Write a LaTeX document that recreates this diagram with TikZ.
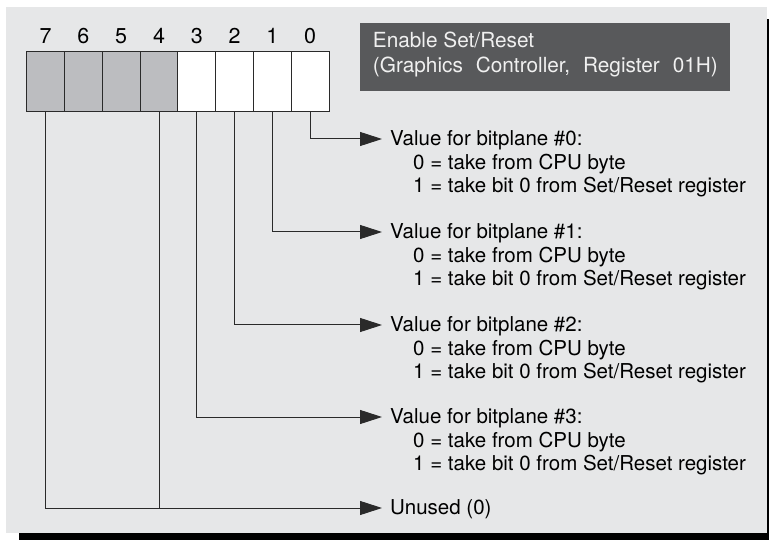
\documentclass[tikz,border=0pt]{standalone}
\usepackage{fontspec}
\setmainfont{TeX Gyre Heros}
\usepackage{tikz}
\usetikzlibrary{arrows.meta,positioning}
\usepackage{xcolor}
\definecolor{panelgray}{HTML}{E6E7E8}
\definecolor{cellgray}{HTML}{BCBDC0}
\definecolor{titlegray}{HTML}{58595B}
\definecolor{wiregray}{HTML}{2A2A2A}
\newcommand{\indln}{\hspace*{23pt}}
\newcommand{\wsp}{\hspace{.62em}}

\begin{document}
\begin{tikzpicture}[x=1pt,y=-1pt,
    every node/.style={font=\fontsize{20.5}{23.5}\selectfont},
    cell/.style={draw=wiregray, line width=1pt, minimum width=37.8pt,
      minimum height=59.3pt, inner sep=0pt, outer sep=0pt},
    unusedcell/.style={cell, fill=cellgray},
    usedcell/.style={cell, fill=white},
    bitnum/.style={anchor=base, inner sep=0pt, font=\fontsize{21.5}{24}\selectfont},
    desc/.style={anchor=north west, align=left, inner sep=0pt},
    wire/.style={draw=wiregray, line width=1pt,
      -{Triangle[length=22pt,width=14pt]}}]

    \useasboundingbox (0,0) rectangle (769,540);

    % =====================
    % Panel and shadow
    % =====================
    \fill[black] (19,19) rectangle (769,540);
    \fill[panelgray] (6,7) rectangle (767,533);

    % =====================
    % Register cells
    % =====================
    \node[unusedcell] (b7) at (45.6,81.4) {};
    \node[unusedcell] (b6) at (83.4,81.4) {};
    \node[unusedcell] (b5) at (121.2,81.4) {};
    \node[unusedcell] (b4) at (159.0,81.4) {};
    \node[usedcell] (b3) at (196.8,81.4) {};
    \node[usedcell] (b2) at (234.6,81.4) {};
    \node[usedcell] (b1) at (272.4,81.4) {};
    \node[usedcell] (b0) at (310.2,81.4) {};

    \node[bitnum] (n7) at (45.6,43.3) {7};
    \node[bitnum] (n6) at (83.4,43.3) {6};
    \node[bitnum] (n5) at (121.2,43.3) {5};
    \node[bitnum] (n4) at (159.0,43.3) {4};
    \node[bitnum] (n3) at (196.8,43.3) {3};
    \node[bitnum] (n2) at (234.6,43.3) {2};
    \node[bitnum] (n1) at (272.4,43.3) {1};
    \node[bitnum] (n0) at (310.2,43.3) {0};

    % =====================
    % Title box
    % =====================
    \fill[titlegray] (360,23) rectangle (730,91);
    \node[desc, text=white!94!black, font=\fontsize{20.8}{25}\selectfont]
      (title) at (372.7,31.8) {Enable Set/Reset\\(Graphics\wsp Controller,\wsp Register\wsp 01H)};

    % =====================
    % Descriptions
    % =====================
    \coordinate (e0) at (382,139);
    \coordinate (e1) at (382,232);
    \coordinate (e2) at (382,325);
    \coordinate (e3) at (382,417);
    \coordinate (e7) at (382,508);

    \node[desc] (t0) at (390,130.3) {Value for bitplane \#0:\\\indln 0 = take from CPU byte\\\indln 1 = take bit 0 from Set/Reset register};
    \node[desc] (t1) at (390,223.3) {Value for bitplane \#1:\\\indln 0 = take from CPU byte\\\indln 1 = take bit 0 from Set/Reset register};
    \node[desc] (t2) at (390,316.3) {Value for bitplane \#2:\\\indln 0 = take from CPU byte\\\indln 1 = take bit 0 from Set/Reset register};
    \node[desc] (t3) at (390,408.3) {Value for bitplane \#3:\\\indln 0 = take from CPU byte\\\indln 1 = take bit 0 from Set/Reset register};
    \node[anchor=base west, inner sep=0pt] (t7) at (390,514) {Unused (0)};

    % =====================
    % Connectors
    % =====================
    \draw[wire] (b0.south) |- (e0);
    \draw[wire] (b1.south) |- (e1);
    \draw[wire] (b2.south) |- (e2);
    \draw[wire] (b3.south) |- (e3);
    \draw[wire] (b7.south) |- (e7);
    \draw[draw=wiregray, line width=1pt] (b4.south) -- (b4.south |- e7);

\end{tikzpicture}
\end{document}
